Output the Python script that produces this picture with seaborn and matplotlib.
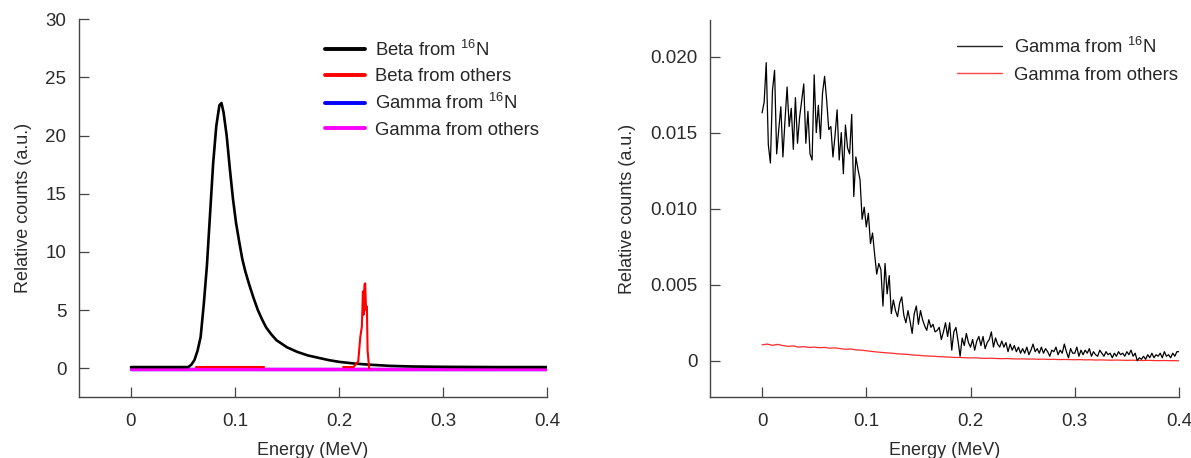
import numpy as np
import pandas as pd
import matplotlib
matplotlib.use("Agg")
import matplotlib.pyplot as plt
from matplotlib.lines import Line2D
import seaborn as sns

# ---------------- data ----------------
# Left panel: Beta from 16N (MeV, relative counts)
beta_n16_x = [0.0, 0.055, 0.058, 0.061, 0.064, 0.067, 0.070, 0.073, 0.076, 0.079,
              0.082, 0.085, 0.087, 0.089, 0.092, 0.095, 0.098, 0.101, 0.104, 0.107,
              0.110, 0.114, 0.118, 0.122, 0.126, 0.130, 0.135, 0.140, 0.145, 0.150,
              0.160, 0.170, 0.180, 0.190, 0.200, 0.215, 0.230, 0.250, 0.270, 0.300,
              0.350, 0.400]
beta_n16_y = [0.1, 0.1, 0.3, 0.7, 1.5, 2.7, 5.5, 8.8, 13.2, 17.6,
              20.8, 22.6, 22.8, 22.0, 20.0, 17.2, 14.6, 12.5, 10.9, 9.4,
              8.3, 7.1, 6.0, 5.0, 4.2, 3.5, 2.9, 2.4, 2.1, 1.8,
              1.4, 1.1, 0.9, 0.7, 0.55, 0.4, 0.3, 0.2, 0.15, 0.12,
              0.1, 0.1]

# Left panel: Beta from others (segments separated by segment id)
beta_oth_x = [0.063, 0.128,
              0.204, 0.2140, 0.2185, 0.2205, 0.2220, 0.2230, 0.2236, 0.2245,
              0.2252, 0.2260, 0.2268, 0.2275, 0.2290]
beta_oth_y = [0.1, 0.1,
              0.1, 0.1, 0.6, 2.7, 3.6, 6.6, 4.6, 7.2,
              7.3, 5.0, 5.3, 1.5, 0.0]
beta_oth_seg = [0, 0,
                1, 1, 1, 1, 1, 1, 1, 1,
                1, 1, 1, 1, 1]

# Left panel: gamma curves (flat, just below zero on this scale)
gamma_left_x = [0.0, 0.4]
gamma_n16_left_y = [-0.1, -0.1]
gamma_oth_left_y = [-0.1, -0.1]

# Right panel: Gamma from 16N, 0.002 MeV steps, units of 1e-3
gamma_n16_step = 0.002
gamma_n16_vals = [
    16.3, 17.0, 19.6, 14.2, 13.0,  17.8, 19.1, 13.6, 15.2, 16.7,
    13.4, 15.8, 18.0, 15.4, 16.6,  13.9, 17.3, 14.3, 16.0, 17.1,
    18.2, 14.3, 16.4, 13.6, 13.2,  18.8, 15.0, 16.8, 14.6, 17.6,
    18.7, 17.1, 15.2, 15.4, 13.4,  14.8, 16.5, 13.2, 15.0, 12.3,
    15.5, 14.0, 13.6, 16.2, 10.8,  13.4, 12.6, 11.9, 9.3, 10.1,
    8.8, 9.7, 7.7, 8.4, 7.0,       5.7, 6.4, 6.0, 3.6, 6.4,
    4.4, 5.6, 3.1, 4.0, 3.3,       2.9, 3.8, 4.2, 3.0, 2.5,
    3.3, 2.6, 1.8, 3.1, 3.6,       2.4, 3.3, 2.7, 2.3, 2.0,
    2.7, 2.2, 2.4, 1.9, 2.0,       2.2, 1.4, 1.9, 2.5, 1.6,
    2.5, 0.7, 1.9, 2.2, 1.3,       0.3, 1.5, 1.0, 1.8, 1.2,
    0.9, 1.4, 0.7, 1.3, 1.6,       1.0, 1.6, 0.8, 1.2, 1.4,
    1.9, 0.9, 1.5, 1.1, 0.9,       1.3, 0.9, 1.2, 0.6, 1.1,
    0.7, 1.0, 0.6, 0.9, 0.5,       0.8, 0.5, 0.9, 0.4, 0.7,
    1.1, 0.6, 0.8, 0.5, 0.9,       0.5, 0.8, 0.6, 0.3, 0.7,
    0.6, 0.9, 0.4, 0.7, 0.5,       1.1, 0.6, 0.2, 0.8, 0.5,
    0.5, 0.9, 0.3, 0.7, 0.4,       0.7, 0.5, 0.8, 0.3, 0.6,
    0.4, 0.3, 0.7, 0.5, 0.3,       0.6, 0.4, 0.5, 0.2, 0.5,
    0.3, 0.6, 0.4, 0.5, 0.3,       0.6, 0.4, 0.7, 0.3, 0.5,
    0.0, 0.2, 0.1, 0.3, 0.1,       0.4, 0.2, 0.5, 0.2, 0.4,
    0.3, 0.5, 0.2, 0.6, 0.3,       0.4, 0.2, 0.5, 0.3, 0.6,
    0.6,
]

# Right panel: Gamma from others, 0.005 MeV steps, units of 1e-3
gamma_oth_step = 0.005
gamma_oth_vals = [
    1.05, 1.10, 1.02, 1.08, 1.00, 0.95, 0.98, 0.90, 0.93, 0.88,
    0.90, 0.86, 0.88, 0.83, 0.85, 0.80, 0.76, 0.78, 0.72, 0.70,
    0.66, 0.62, 0.58, 0.55, 0.52, 0.50, 0.46, 0.44, 0.42, 0.38,
    0.36, 0.33, 0.31, 0.30, 0.27, 0.26, 0.24, 0.22, 0.22, 0.20,
    0.19, 0.20, 0.17, 0.16, 0.17, 0.15, 0.14, 0.15, 0.13, 0.12,
    0.13, 0.11, 0.12, 0.10, 0.11, 0.09, 0.10, 0.08, 0.09, 0.08,
    0.07, 0.08, 0.06, 0.07, 0.05, 0.06, 0.05, 0.04, 0.05, 0.04,
    0.03, 0.04, 0.03, 0.02, 0.03, 0.02, 0.01, 0.02, 0.01, 0.01,
    0.00,
]

x_ticks = [0, 0.1, 0.2, 0.3, 0.4]
x_tick_labels = ["0", "0.1", "0.2", "0.3", "0.4"]
left_y_ticks = [0, 5, 10, 15, 20, 25, 30]
right_y_ticks = [0, 0.005, 0.010, 0.015, 0.020]
right_y_tick_labels = ["0", "0.005", "0.010", "0.015", "0.020"]

left_labels = ["Beta from $^{\\mathregular{16}}$N", "Beta from others",
               "Gamma from $^{\\mathregular{16}}$N", "Gamma from others"]
right_labels = ["Gamma from $^{\\mathregular{16}}$N", "Gamma from others"]

# ---------------- style ----------------
sns.set_style("white")
FONT = ["Liberation Sans", "DejaVu Sans"]
plt.rcParams["font.family"] = FONT
plt.rcParams["mathtext.fontset"] = "custom"
plt.rcParams["mathtext.rm"] = FONT[0]
TXT = "#2b2b2b"
SPINE = "#444444"
TICK_FS = 13.5
LAB_FS = 13
LEG_FS = 13.3

fig = plt.figure(figsize=(11.91, 4.58), dpi=100)
axL = fig.add_axes([0.0663, 0.1325, 0.3930, 0.8255])
axR = fig.add_axes([0.5961, 0.1325, 0.3938, 0.8237])

# ---------------- left panel ----------------
df_b16 = pd.DataFrame({"E": beta_n16_x, "C": beta_n16_y})
df_bo = pd.DataFrame({"E": beta_oth_x, "C": beta_oth_y, "seg": beta_oth_seg})
df_gl = pd.DataFrame({"E": gamma_left_x, "g16": gamma_n16_left_y, "go": gamma_oth_left_y})

sns.lineplot(data=df_gl, x="E", y="g16", ax=axL, color="#0000ff", lw=2.4,
             estimator=None, sort=False, zorder=1)
sns.lineplot(data=df_gl, x="E", y="go", ax=axL, color="#ff00ff", lw=2.4,
             estimator=None, sort=False, zorder=2)
sns.lineplot(data=df_b16, x="E", y="C", ax=axL, color="black", lw=1.9,
             estimator=None, sort=False, zorder=3)
sns.lineplot(data=df_bo, x="E", y="C", units="seg", ax=axL, color="#ff0000",
             lw=1.5, estimator=None, sort=False, zorder=4)

axL.set_xlim(-0.05, 0.4)
axL.set_ylim(-2.5, 30)
axL.set_yticks(left_y_ticks)
axL.set_ylabel("Relative counts (a.u.)", fontsize=LAB_FS, color=TXT, labelpad=10)

hL = [Line2D([], [], color=c, lw=2.8) for c in ["black", "#ff0000", "#0000ff", "#ff00ff"]]
axL.legend(hL, left_labels, loc="upper left", bbox_to_anchor=(0.525, 0.946),
           frameon=False, fontsize=LEG_FS, handlelength=2.2, handletextpad=0.55,
           labelspacing=0.45, borderaxespad=0.0, borderpad=0.0)

# ---------------- right panel ----------------
g16_E = np.arange(len(gamma_n16_vals)) * gamma_n16_step
go_E = np.arange(len(gamma_oth_vals)) * gamma_oth_step
df_g16 = pd.DataFrame({"E": g16_E, "C": np.array(gamma_n16_vals) * 1e-3})
df_go = pd.DataFrame({"E": go_E, "C": np.array(gamma_oth_vals) * 1e-3})

sns.lineplot(data=df_go, x="E", y="C", ax=axR, color="#ff2a2a", lw=0.9,
             estimator=None, sort=False)
sns.lineplot(data=df_g16, x="E", y="C", ax=axR, color="black", lw=0.9,
             estimator=None, sort=False)

axR.set_xlim(-0.05, 0.4)
axR.set_ylim(-0.0024, 0.0224)
axR.set_yticks(right_y_ticks)
axR.set_yticklabels(right_y_tick_labels)
axR.set_ylabel("Relative counts (a.u.)", fontsize=LAB_FS, color=TXT, labelpad=10)

hR = [Line2D([], [], color=c, lw=1.0) for c in ["#222222", "#ff4444"]]
axR.legend(hR, right_labels, loc="upper left", bbox_to_anchor=(0.527, 0.956),
           frameon=False, fontsize=LEG_FS, handlelength=2.45, handletextpad=0.65,
           labelspacing=0.55, borderaxespad=0.0, borderpad=0.0)

for ax in (axL, axR):
    ax.set_xticks(x_ticks)
    ax.set_xticklabels(x_tick_labels)
    ax.set_xlabel("Energy (MeV)", fontsize=LAB_FS, color=TXT, labelpad=9)
    ax.tick_params(direction="in", length=7, width=0.9, color=SPINE,
                   labelsize=TICK_FS, labelcolor=TXT, bottom=True, left=True)
    ax.tick_params(axis="y", pad=9)
    ax.tick_params(axis="x", pad=11)
    for s in ("top", "right"):
        ax.spines[s].set_visible(False)
    for s in ("left", "bottom"):
        ax.spines[s].set_color(SPINE)
        ax.spines[s].set_linewidth(1.0)
    ax.grid(False)

fig.savefig("out.png", dpi=100)
